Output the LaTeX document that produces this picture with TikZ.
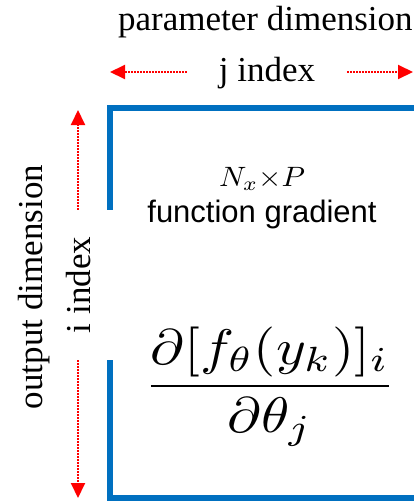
\documentclass[tikz,border=0pt]{standalone}
\usepackage{fontspec}
\usepackage{graphicx}
\setmainfont{Liberation Serif}
\newfontfamily\sansf{Liberation Sans}
\usetikzlibrary{arrows.meta}
\definecolor{boxblue}{RGB}{0,112,192}
\definecolor{arrred}{RGB}{255,0,0}
\begin{document}
\begin{tikzpicture}[x=1pt,y=-1pt,
  lbl/.style={font=\fontsize{35}{40}\selectfont, inner sep=0pt},
  darr/.style={draw=arrred, line width=2pt, dash pattern=on 1.5pt off 1.5pt,
    -{Triangle[length=15pt,width=14pt,fill=arrred]}},
  boxstyle/.style={draw=boxblue, line width=6pt, inner sep=0pt}]
\useasboundingbox (0,0) rectangle (414,501);
\node[boxstyle, minimum width=320pt, minimum height=390.5pt] (box) at (270,302.75) {};
\coordinate (jl) at (110,72);
\coordinate (jr) at (413,72);
\coordinate (ti) at (78,110);
\coordinate (bi) at (78,498);
\node[lbl, anchor=base west] (param) at (118,30) {parameter dimension};
\node[lbl, anchor=base, minimum width=160pt] (jidx) at (267,81) {j index};
\node[lbl, rotate=90, anchor=base] (outd) at (42,287) {output dimension};
\node[lbl, rotate=90, anchor=base, fill=white, minimum width=150pt,
  text height=39pt, text depth=24pt] (iidx) at (90,285) {i index};
\draw[darr] (jidx.west |- jl) -- (jl);
\draw[darr] (jidx.east |- jr) -- (jr);
\draw[darr] (iidx.east -| ti) -- (ti);
\draw[darr] (iidx.west -| bi) -- (bi);
\node[inner sep=0pt, anchor=base] (dims) at (262,186) {\scalebox{3.0}[2.8]{$N_x{\times}P$}};
\node[inner sep=0pt, anchor=base, font=\sansf\fontsize{31}{36}\selectfont] (fg) at (262,222) {function gradient};
\node[inner sep=0pt, anchor=base] (frac) at (270,398) {\scalebox{5.7}[5.0]{$\displaystyle\frac{\partial[f_\theta(y_k)]_i}{\partial\theta_j}$}};
\end{tikzpicture}
\end{document}
